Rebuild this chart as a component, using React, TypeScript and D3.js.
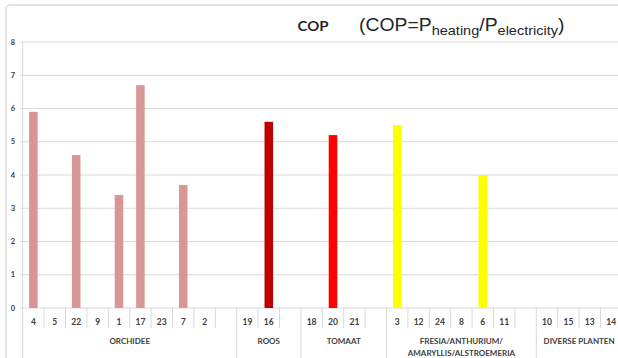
import React from "react";
import * as d3 from "d3";

const categories = ["4","5","22","9","1","17","23","7","2","",
  "19","16","",
  "18","20","21","",
  "3","12","24","8","6","11","",
  "10","15","13","14"];
const values: (number | null)[] = [5.9,null,4.6,null,3.4,6.7,null,3.7,null,null,
  null,5.6,null,
  null,5.2,null,null,
  5.5,null,null,null,4.0,null,null,
  null,null,null,null];
const groupNames = [["ORCHIDEE"],["ROOS"],["TOMAAT"],["FRESIA/ANTHURIUM/","AMARYLLIS/ALSTROEMERIA"],["DIVERSE PLANTEN"]];
const groupSizes = [10,3,4,7,4];
const groupColors = ["#d99694","#c00000","#ff0000","#ffff00","#7f7f7f"];
const yTicks = [0,1,2,3,4,5,6,7,8];

const W = 618, H = 358;
const left = 22.7, slot = 21.4;
const x = d3.scaleBand<number>().domain(d3.range(categories.length)).range([left, left + slot * categories.length]).padding(0);
const y = d3.scaleLinear().domain([0, 8]).range([308, 42]);

const groupOf: number[] = [];
groupSizes.forEach((n, g) => { for (let i = 0; i < n; i++) groupOf.push(g); });
const groupStarts = groupSizes.map((_, g) => d3.sum(groupSizes.slice(0, g)));

const lblFont = "Lato, 'Open Sans', sans-serif";

export default function App() {
  const bw = x.bandwidth() * 0.4;
  return (
    <svg width={W} height={H} style={{ position: "absolute", left: 0, top: 0, background: "#fff" }}>
      <rect x={6} y={5} width={W + 20} height={H + 20} rx={4} fill="#fff" stroke="#d9d9d9" strokeWidth={1.5} />
      {/* gridlines */}
      {yTicks.map(t => (
        <line key={t} x1={20} x2={W} y1={y(t)} y2={y(t)} stroke="#d9d9d9" strokeWidth={1} />
      ))}
      {/* y axis */}
      <line x1={left} x2={left} y1={y(8)} y2={H} stroke="#d9d9d9" strokeWidth={1} />
      {yTicks.map(t => (
        <text key={"yt" + t} x={13} y={y(t)} dy="0.35em" textAnchor="middle" fontFamily={lblFont} fontWeight={700} fontSize={7.5} fill="#404040">{t}</text>
      ))}
      {/* category separators */}
      {d3.range(1, categories.length).map(i => {
        const isGroup = groupStarts.includes(i);
        return <line key={"s" + i} x1={x(i)!} x2={x(i)!} y1={y(0)} y2={isGroup ? H : 328} stroke="#d9d9d9" strokeWidth={1} />;
      })}
      {/* bars */}
      {values.map((v, i) => v == null ? null : (
        <rect key={"b" + i} x={x(i)! + (x.bandwidth() - bw) / 2} width={bw} y={y(v)} height={y(0) - y(v)} fill={groupColors[groupOf[i]]} />
      ))}
      {/* category labels */}
      {categories.map((c, i) => (
        <text key={"c" + i} x={x(i)! + x.bandwidth() / 2} y={322} dy="0.35em" textAnchor="middle" fontFamily={lblFont} fontWeight={700} fontSize={8.5} fill="#404040">{c}</text>
      ))}
      {/* group labels */}
      {groupNames.map((lines, g) => {
        const cx = x(groupStarts[g])! + (groupSizes[g] * slot) / 2;
        return lines.map((l, k) => (
          <text key={"g" + g + k} x={cx} y={341 + k * 12} dy="0.35em" textAnchor="middle" fontFamily={lblFont} fontWeight={700} fontSize={8} fill="#404040">{l}</text>
        ));
      })}
      {/* title */}
      <text x={313} y={31} textAnchor="middle" fontFamily={lblFont} fontWeight={700} fontSize={13} fill="#262626" transform="translate(313,0) scale(1.15,1) translate(-313,0)">COP</text>
      <text transform="translate(359,31) scale(1.076,1)" x={0} y={0} fontFamily="'Liberation Sans', Arial, sans-serif" fontSize={18} fill="#262626">
        <tspan>(COP=P</tspan>
        <tspan fontSize={13.5} dy={4}>heating</tspan>
        <tspan dy={-4}>/P</tspan>
        <tspan fontSize={13.5} dy={4}>electricity</tspan>
        <tspan dy={-4}>)</tspan>
      </text>
    </svg>
  );
}
